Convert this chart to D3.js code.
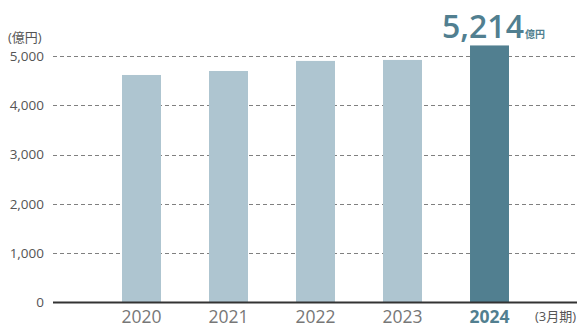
<!DOCTYPE html>
<html>
<head>
<meta charset="utf-8">
<script src="https://cdn.jsdelivr.net/npm/d3@7"></script>
<style>
  html, body { margin: 0; padding: 0; background: #fff; }
  svg { display: block; font-family: "Open Sans", "Noto Sans CJK JP", sans-serif; }
</style>
</head>
<body>
<svg id="chart" width="577" height="324"></svg>
<script>
// Net sales by fiscal year (ending March), in 100 million yen
const years = ["2020", "2021", "2022", "2023", "2024"];
const sales = [4615, 4696, 4900, 4920, 5214];
const yTicks = [0, 1000, 2000, 3000, 4000, 5000];
const highlightYear = "2024";

const svg = d3.select("#chart");
const W = 577;

const x = d3.scaleBand()
  .domain(years)
  .range([98, 533])
  .paddingInner(0.552)
  .paddingOuter(0.276);

const y = d3.scaleLinear()
  .domain([0, 5000])
  .range([302.5, 56]);

const light = "#aec5d0";
const dark = "#517f90";

// dashed gridlines
svg.append("g")
  .selectAll("line")
  .data(yTicks.filter(d => d > 0))
  .join("line")
  .attr("x1", 53).attr("x2", W)
  .attr("y1", d => Math.round(y(d)) + 0.5)
  .attr("y2", d => Math.round(y(d)) + 0.5)
  .attr("stroke", "#808080")
  .attr("stroke-width", 1)
  .attr("stroke-dasharray", "4,3");

// bars
svg.append("g")
  .selectAll("rect")
  .data(years.map((yr, i) => ({ yr, v: sales[i] })))
  .join("rect")
  .attr("x", d => x(d.yr))
  .attr("width", x.bandwidth())
  .attr("y", d => y(d.v))
  .attr("height", d => y(0) - y(d.v))
  .attr("fill", d => d.yr === highlightYear ? dark : light);

// baseline
svg.append("line")
  .attr("x1", 53).attr("x2", W)
  .attr("y1", y(0)).attr("y2", y(0))
  .attr("stroke", "#333")
  .attr("stroke-width", 2);

// y tick labels
svg.append("g")
  .selectAll("text")
  .data(yTicks)
  .join("text")
  .attr("x", 44)
  .attr("y", d => y(d))
  .attr("dy", "0.36em")
  .attr("text-anchor", "end")
  .attr("font-size", 13.5)
  .attr("fill", "#555")
  .text(d => d3.format(",")(d));

// unit label
svg.append("text")
  .attr("x", 8).attr("y", 42)
  .attr("font-size", 13)
  .attr("fill", "#555")
  .text("(億円)");

// x labels
svg.append("g")
  .selectAll("text")
  .data(years)
  .join("text")
  .attr("x", d => x(d) + x.bandwidth() / 2)
  .attr("y", 323)
  .attr("text-anchor", "middle")
  .attr("font-size", 17.5)
  .attr("font-weight", d => d === highlightYear ? 700 : 400)
  .attr("fill", d => d === highlightYear ? dark : "#777")
  .text(d => d);

svg.append("text")
  .attr("x", 535).attr("y", 321)
  .attr("font-size", 13)
  .attr("fill", "#555")
  .text("(3月期)");

// value callout on the highlighted bar
const hi = years.indexOf(highlightYear);
const callout = svg.append("text")
  .attr("x", x(highlightYear) + x.bandwidth() / 2 + 4)
  .attr("y", 38)
  .attr("text-anchor", "middle")
  .attr("fill", dark)
  .attr("font-weight", 600);
callout.append("tspan")
  .attr("font-size", 32)
  .text(d3.format(",")(sales[hi]));
callout.append("tspan")
  .attr("font-size", 10)
  .attr("font-weight", 700)
  .attr("dx", 1)
  .text("億円");
</script>
</body>
</html>
